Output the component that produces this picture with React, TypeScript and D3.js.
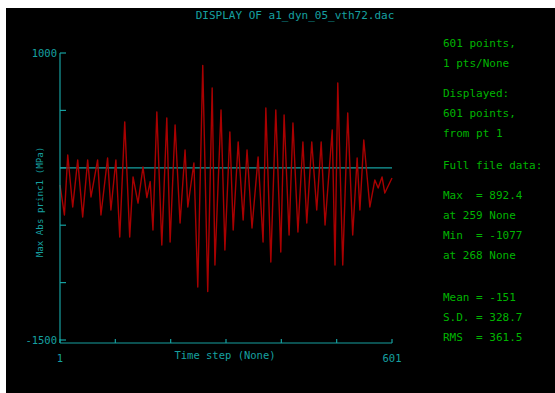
import React from "react";
import * as d3 from "d3";

// Extrema of the stress history (time step, value in MPa)
const steps = [
  1, 9, 15, 24, 33, 42, 51, 57, 69, 75, 87, 93, 102, 109, 118, 127, 133, 142, 151, 158, 164, 169,
  176, 185, 194, 200, 209, 218, 227, 232, 243, 250, 259, 268, 276, 281, 292, 299, 308, 314,
  323, 332, 339, 348, 359, 368, 373, 382, 391, 400, 406, 415, 422, 431, 440, 447, 456, 465,
  473, 480, 493, 498, 503, 512, 521, 530, 538, 543, 550, 561, 570, 576, 583, 588, 601,
];
const values = [
  -150, -411, 111, -341, 68, -428, 68, -254, 68, -411, 85, -368, 68, -603, 400, -603, -80, -307, 7, -260, -120, -542,
  486, -672, 434, -646, 373, -481, 155, -341, 42, -1038, 892.4, -1077, 695, -847, 503, -716, 312, -542,
  225, -455, 155, -524, 94, -646, 521, -821, 503, -734, 460, -585, 390, -559, 225, -481, 225, -368,
  225, -498, 329, -847, 739, -847, 477, -585, 85, -368, 242, -341, -106, -176, -80, -220, -89,
];

const yTicks = [1000, 500, 0, -500, -1000, -1500];
const xTicks = [1, 101, 201, 301, 401, 501, 601];

const title = "DISPLAY OF a1_dyn_05_vth72.dac";
const yLabel = "Max Abs princ1 (MPa)";
const xLabel = "Time step (None)";
const infoLines: [string, number][] = [
  ["601 points,", 47],
  ["1 pts/None", 67],
  ["Displayed:", 97],
  ["601 points,", 117],
  ["from pt 1", 137],
  ["Full file data:", 169],
  ["Max  = 892.4", 199],
  ["at 259 None", 219],
  ["Min  = -1077", 239],
  ["at 268 None", 259],
  ["Mean = -151", 301],
  ["S.D. = 328.7", 321],
  ["RMS  = 361.5", 341],
];

const TEAL = "#16a0a0";
const GREEN = "#00b400";
const RED = "#a80000";
const FONT = "'DejaVu Sans Mono', monospace";

export default function App() {
  const x = d3.scaleLinear().domain([1, 601]).range([60, 392]);
  const y = d3.scaleLinear().domain([-1500, 1000]).range([340, 53]);
  const pts: [number, number][] = steps.map((s, i) => [s, values[i]]);
  const line = d3
    .line<[number, number]>()
    .x((d) => x(d[0]))
    .y((d) => y(d[1]));
  const axisY = 343;

  return (
    <div style={{ position: "fixed", left: 0, top: 0, width: 555, height: 393, background: "#fff" }}>
      <svg width={555} height={393} style={{ display: "block" }}>
        <rect x={6} y={8} width={549} height={385} fill="#000" />
        <text x={295} y={19} fill={TEAL} fontFamily={FONT} fontSize={11} textAnchor="middle">
          {title}
        </text>

        {/* zero reference line */}
        <line x1={x(1)} x2={x(601)} y1={y(0)} y2={y(0)} stroke={TEAL} strokeWidth={1.2} />

        {/* signal */}
        <path d={line(pts) ?? ""} fill="none" stroke={RED} strokeWidth={1.4} strokeLinejoin="round" />

        {/* axes */}
        <line x1={60} x2={60} y1={y(1000)} y2={axisY} stroke={TEAL} strokeWidth={1.2} />
        <line x1={60} x2={x(601)} y1={axisY} y2={axisY} stroke={TEAL} strokeWidth={1.2} />
        {yTicks.map((t) => (
          <line key={t} x1={60} x2={66} y1={y(t)} y2={y(t)} stroke={TEAL} strokeWidth={1.2} />
        ))}
        {[yTicks[0], yTicks[yTicks.length - 1]].map((t) => (
          <text key={t} x={57} y={y(t) + 4} fill={TEAL} fontFamily={FONT} fontSize={10.5} textAnchor="end">
            {t}
          </text>
        ))}
        {xTicks.map((t) => (
          <line key={t} x1={x(t)} x2={x(t)} y1={axisY} y2={axisY - 4} stroke={TEAL} strokeWidth={1.2} />
        ))}
        <text x={x(1)} y={362} fill={TEAL} fontFamily={FONT} fontSize={10.5} textAnchor="middle">
          {xTicks[0]}
        </text>
        <text x={x(601)} y={362} fill={TEAL} fontFamily={FONT} fontSize={10.5} textAnchor="middle">
          {xTicks[xTicks.length - 1]}
        </text>
        <text x={225} y={359} fill={TEAL} fontFamily={FONT} fontSize={10.5} textAnchor="middle">
          {xLabel}
        </text>
        <text
          transform="translate(43,202) rotate(-90)"
          fill={TEAL}
          fontFamily={FONT}
          fontSize={9.2}
          textAnchor="middle"
        >
          {yLabel}
        </text>

        {/* summary panel */}
        {infoLines.map(([s, yy], i) => (
          <text key={i} x={443} y={yy} fill={GREEN} fontFamily={FONT} fontSize={11} style={{ whiteSpace: "pre" }}>
            {s}
          </text>
        ))}
      </svg>
    </div>
  );
}
